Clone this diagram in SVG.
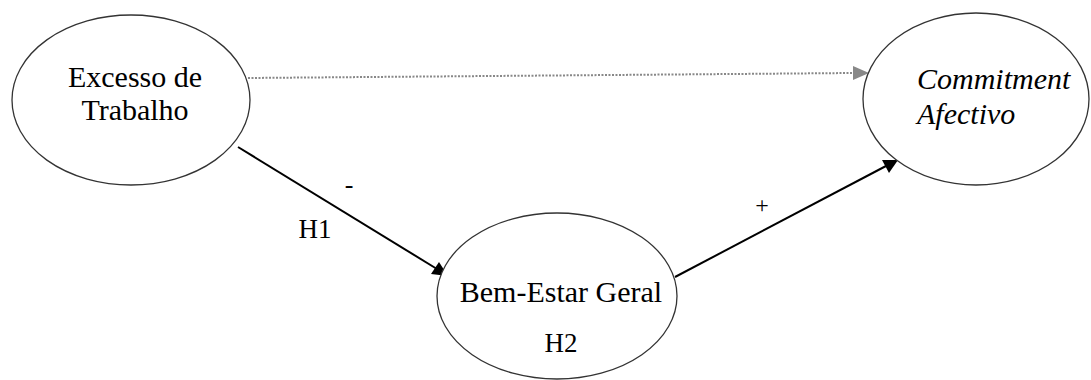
<svg xmlns="http://www.w3.org/2000/svg" width="1091" height="380" viewBox="0 0 1091 380">
<style>
.node{fill:#fff;stroke:#333;stroke-width:1.3}
.t{font-family:'Liberation Serif','Tinos','DejaVu Serif','Noto Serif',serif;fill:#000}
.conn{stroke:#000;stroke-width:2;fill:none}
.dot{stroke:#888;stroke-width:2;stroke-dasharray:2 1.5;fill:none}
</style>
<g id="connectors">
<line class="dot" x1="248" y1="78" x2="853" y2="73"/>
<path d="M853,66 L869,73 L853,80 z" fill="#888"/>
<line class="conn" x1="238" y1="147" x2="437" y2="269"/>
<path d="M448,276 L431,274 L439,262 z" fill="#000"/>
<line class="conn" x1="675" y1="277" x2="886" y2="166"/>
<path d="M898,160 L889,173 L882,160 z" fill="#000"/>
<text class="t" x="349" y="193" font-size="26" text-anchor="middle">-</text>
<text class="t" x="315" y="238" font-size="27" text-anchor="middle">H1</text>
<text class="t" x="762" y="213" font-size="24" text-anchor="middle">+</text>
</g>
<g id="excesso">
<ellipse class="node" cx="131" cy="100" rx="119" ry="85"/>
<text class="t" x="135" y="87" font-size="30" text-anchor="middle">Excesso de</text>
<text class="t" x="135" y="120" font-size="30" text-anchor="middle">Trabalho</text>
</g>
<g id="commitment">
<ellipse class="node" cx="976" cy="99" rx="113" ry="86"/>
<text class="t" x="917" y="89" font-size="30" font-style="italic">Commitment</text>
<text class="t" x="917" y="124" font-size="30" font-style="italic">Afectivo</text>
</g>
<g id="bemestar">
<ellipse class="node" cx="557" cy="296" rx="120" ry="83"/>
<text class="t" x="561" y="302" font-size="30" text-anchor="middle">Bem-Estar Geral</text>
<text class="t" x="561" y="352" font-size="27" text-anchor="middle">H2</text>
</g>
</svg>
